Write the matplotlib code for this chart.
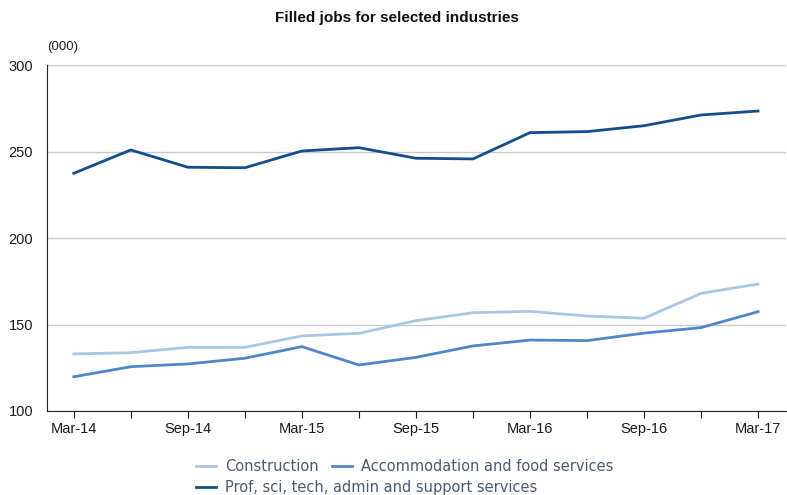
import matplotlib
matplotlib.use('Agg')
import matplotlib.pyplot as plt
from matplotlib.lines import Line2D

# Quarterly filled jobs ('000)
quarters = ['Mar-14', 'Jun-14', 'Sep-14', 'Dec-14', 'Mar-15', 'Jun-15', 'Sep-15',
            'Dec-15', 'Mar-16', 'Jun-16', 'Sep-16', 'Dec-16', 'Mar-17']
construction = [133.0, 133.7, 136.8, 136.8, 143.4, 144.9, 152.2, 156.8, 157.6, 154.9, 153.6, 168.0, 173.4]
accommodation = [119.8, 125.6, 127.2, 130.5, 137.2, 126.6, 131.0, 137.6, 141.0, 140.7, 145.0, 148.2, 157.4]
prof_services = [237.4, 250.9, 240.9, 240.6, 250.3, 252.2, 246.1, 245.7, 260.9, 261.5, 264.9, 271.1, 273.4]

series_names = ['Construction', 'Accommodation and food services',
                'Prof, sci, tech, admin and support services']
colors = ['#a9c6e3', '#4f86c6', '#134d8b']

plt.rcParams['font.family'] = ['Liberation Sans', 'DejaVu Sans']

fig = plt.figure(figsize=(7.87, 4.95), dpi=100)
ax = fig.add_axes([47 / 787, 1 - 411 / 495, (786 - 47) / 787, (411 - 65) / 495])

x = list(range(len(quarters)))
ax.plot(x, construction, color=colors[0], lw=2)
ax.plot(x, accommodation, color=colors[1], lw=2)
ax.plot(x, prof_services, color=colors[2], lw=2)

ax.set_xlim(-0.47, 12.49)
ax.set_ylim(100, 300)
ax.set_yticks([100, 150, 200, 250, 300])
ax.set_xticks(x)
ax.set_xticklabels([q if i % 2 == 0 else '' for i, q in enumerate(quarters)])
ax.grid(axis='y', color='#c8c8c8', lw=1)
ax.set_axisbelow(True)
for s in ['top', 'right']:
    ax.spines[s].set_visible(False)
ax.spines['left'].set_color('#222222')
ax.spines['bottom'].set_color('#222222')
ax.tick_params(axis='y', length=0, pad=10, labelsize=10.5, colors='#1a1a1a')
ax.tick_params(axis='x', length=5, direction='out', labelsize=10.5, colors='#1a1a1a', pad=3)

ax.text(0.0, 1.035, '(000)', transform=ax.transAxes, fontsize=9.5, color='#222222',
        ha='left', va='bottom')

fig.text(397 / 787, 1 - 18 / 495, 'Filled jobs for selected industries',
         fontweight='bold', fontsize=11, ha='center', va='center', color='#111111')

# legend: two rows laid out like the original
handles = [Line2D([], [], color=c, lw=2) for c in colors]
leg_kw = dict(loc='upper left', frameon=False, prop={'family': 'DejaVu Sans', 'size': 10.5},
              handlelength=1.4, handletextpad=0.6, borderaxespad=0, borderpad=0)
leg1 = fig.legend(handles[:2], series_names[:2], ncol=2, columnspacing=0.9,
                  bbox_to_anchor=(196 / 787, 1 - 459 / 495), **leg_kw)
leg2 = fig.legend(handles[2:], series_names[2:],
                  bbox_to_anchor=(196 / 787, 1 - 480 / 495), **leg_kw)
for leg in (leg1, leg2):
    for t in leg.get_texts():
        t.set_color('#4a5a70')

fig.savefig('out.png', dpi=100)
